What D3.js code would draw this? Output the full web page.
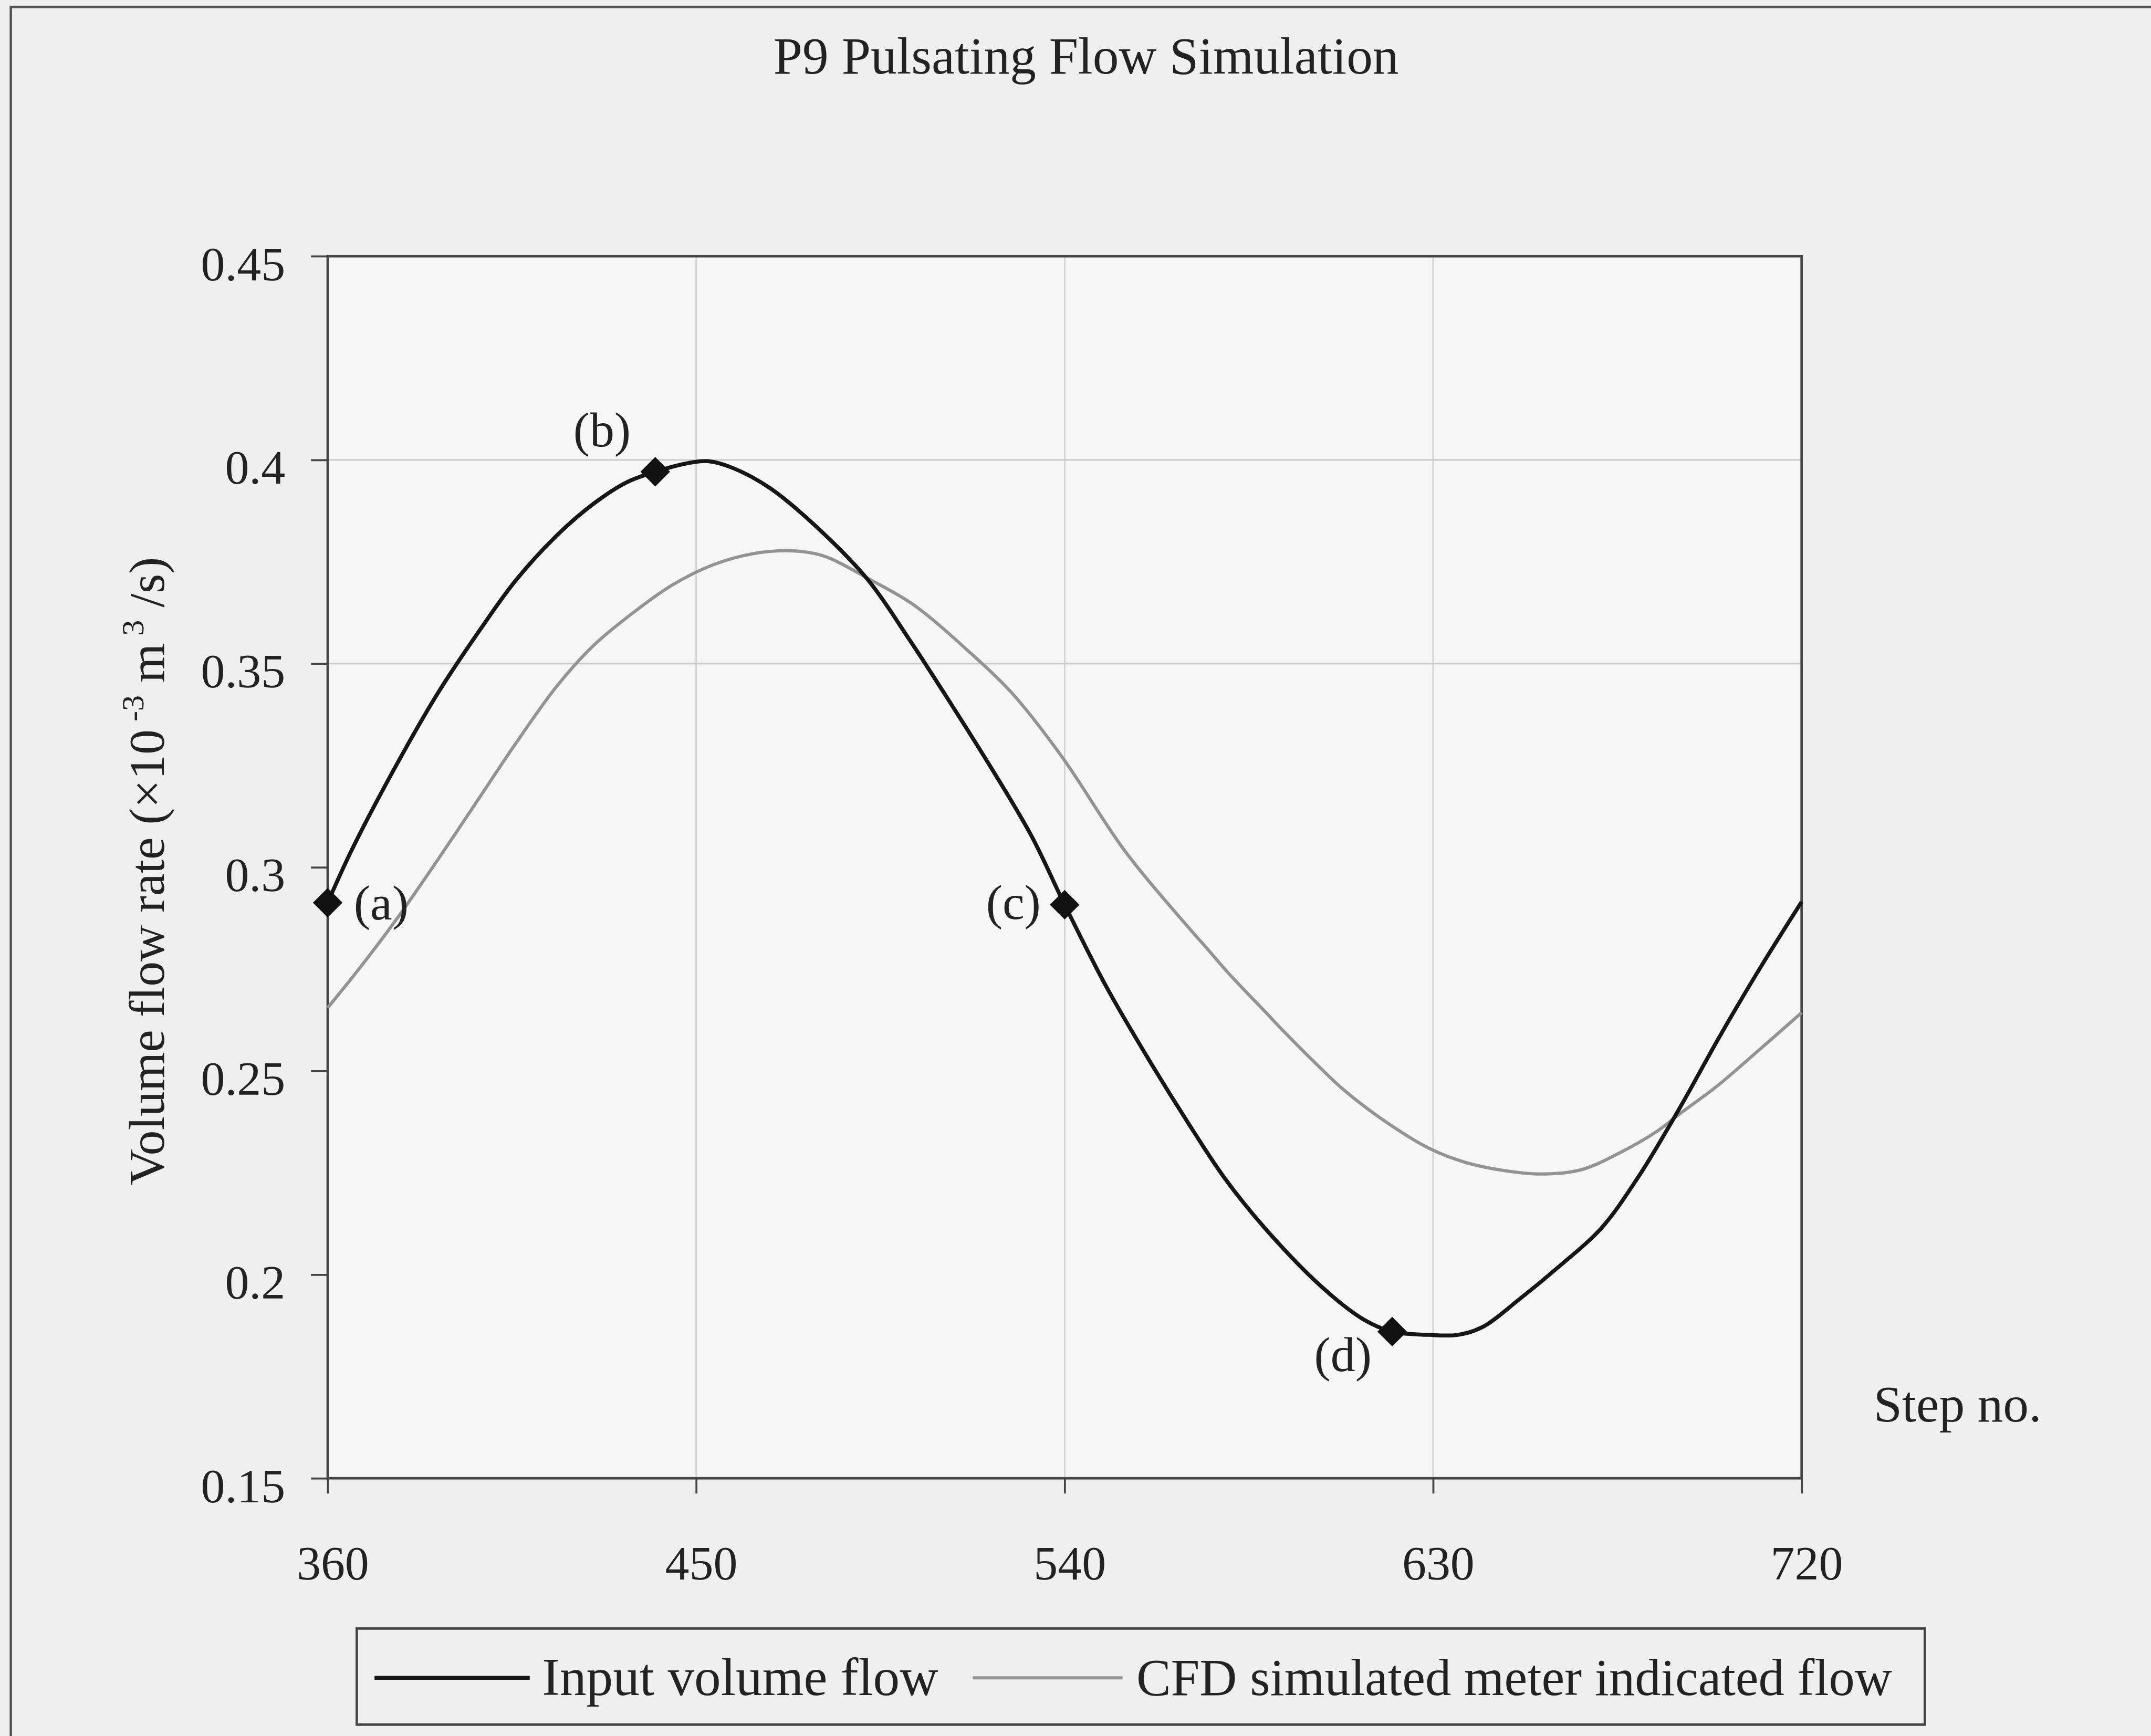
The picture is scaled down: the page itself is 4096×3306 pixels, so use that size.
<!DOCTYPE html>
<html>
<head>
<meta charset="utf-8">
<script src="https://cdn.jsdelivr.net/npm/d3@7"></script>
<style>
body { margin: 0; background: #efefef; }
text { font-family: "Liberation Serif", "Times New Roman", serif; fill: #222; }
</style>
</head>
<body>
<svg id="chart"></svg>
<script>
// values
const inputSteps = [360, 366, 377, 387, 397, 406, 416, 425, 433, 440, 449, 453, 459, 468, 480, 492, 502, 512, 522, 532, 540, 550, 560, 570, 579, 589, 603, 613, 620, 629, 636, 642, 651, 661, 671, 680, 690, 700, 710, 720];
const inputFlow = [0.2913, 0.3045, 0.3255, 0.3429, 0.358, 0.3705, 0.3815, 0.3893, 0.3945, 0.3971, 0.3994, 0.3997, 0.398, 0.3931, 0.383, 0.3705, 0.356, 0.3405, 0.3245, 0.3075, 0.2908, 0.271, 0.2537, 0.2375, 0.2238, 0.2113, 0.1968, 0.189, 0.186, 0.1852, 0.1852, 0.1871, 0.1939, 0.2022, 0.2113, 0.2238, 0.2405, 0.2585, 0.2755, 0.2915];

const cfdSteps = [360, 368, 377, 387, 397, 406, 416, 425, 435, 444, 454, 464, 473, 479, 483, 492, 503, 517, 527, 539, 555, 570, 575, 580, 589, 594, 603, 608, 618, 629, 638, 647, 656, 666, 675, 685, 690, 699, 709, 720];
const cfdFlow = [0.2655, 0.2755, 0.2875, 0.302, 0.317, 0.3305, 0.3445, 0.3545, 0.3628, 0.3692, 0.3742, 0.377, 0.3777, 0.377, 0.3757, 0.3709, 0.3645, 0.3526, 0.3429, 0.3276, 0.3036, 0.2855, 0.2798, 0.274, 0.2645, 0.2592, 0.2502, 0.2455, 0.2378, 0.231, 0.2275, 0.2256, 0.2247, 0.2257, 0.2296, 0.2354, 0.2393, 0.246, 0.2546, 0.2643];

const pointSteps = [360, 440, 540, 620];
const pointFlow = [0.2913, 0.3971, 0.2908, 0.186];
const pointLabels = ['(a)', '(b)', '(c)', '(d)'];

const xTicks = [360, 450, 540, 630, 720];
const yTicks = [0.15, 0.2, 0.25, 0.3, 0.35, 0.4, 0.45];
const yTickLabels = ['0.15', '0.2', '0.25', '0.3', '0.35', '0.4', '0.45'];
const xGrid = [450, 540, 630];
const yGrid = [0.35, 0.4];

const seriesNames = ['Input volume flow', 'CFD simulated meter indicated flow'];

// drawn in reference pixel units, scaled to the window by the viewBox
const W = 4365, H = 3523;
const plot = { left: 665, right: 3656, top: 520, bottom: 3000 };

let svg = d3.select('#chart')
    .attr('width', 4096)
    .attr('height', 3306)
    .attr('viewBox', `0 0 ${W} ${H}`);

svg.append('rect')
    .attr('width', W).attr('height', H)
    .attr('fill', '#efefef');

// outer chart border (runs off the right and bottom in the scan)
svg.append('rect')
    .attr('x', 22).attr('y', 14)
    .attr('width', W + 100).attr('height', H + 100)
    .attr('fill', 'none')
    .attr('stroke', '#555')
    .attr('stroke-width', 5);

let x = d3.scaleLinear().domain([360, 720]).range([plot.left, plot.right]);
let y = d3.scaleLinear().domain([0.15, 0.45]).range([plot.bottom, plot.top]);

svg.append('rect')
    .attr('x', plot.left).attr('y', plot.top)
    .attr('width', plot.right - plot.left)
    .attr('height', plot.bottom - plot.top)
    .attr('fill', '#f6f6f6');

// gridlines
svg.selectAll('.vgrid')
    .data(xGrid)
    .enter()
    .append('line')
    .attr('class', 'vgrid')
    .attr('x1', d => x(d)).attr('x2', d => x(d))
    .attr('y1', plot.top).attr('y2', plot.bottom)
    .attr('stroke', '#d2d2d2')
    .attr('stroke-width', 3);

svg.selectAll('.hgrid')
    .data(yGrid)
    .enter()
    .append('line')
    .attr('class', 'hgrid')
    .attr('x1', plot.left).attr('x2', plot.right)
    .attr('y1', d => y(d)).attr('y2', d => y(d))
    .attr('stroke', '#c8c8c8')
    .attr('stroke-width', 3);

// axes
let xAxis = d3.axisBottom(x)
    .tickValues(xTicks)
    .tickSize(31)
    .tickPadding(105)
    .tickFormat(d => String(d));

let yAxis = d3.axisLeft(y)
    .tickValues(yTicks)
    .tickSize(34)
    .tickPadding(52)
    .tickFormat((d, i) => yTickLabels[i]);

let gx = svg.append('g')
    .attr('transform', `translate(0,${plot.bottom})`)
    .call(xAxis);
gx.select('.domain').remove();
gx.selectAll('line').attr('stroke', '#444').attr('stroke-width', 4);
gx.selectAll('text')
    .attr('font-size', 98)
    .attr('dx', 10)
    .attr('font-family', '"Liberation Serif", "Times New Roman", serif')
    .attr('fill', '#222');

let gy = svg.append('g')
    .attr('transform', `translate(${plot.left},0)`)
    .call(yAxis);
gy.select('.domain').remove();
gy.selectAll('line').attr('stroke', '#444').attr('stroke-width', 4);
gy.selectAll('text')
    .attr('font-size', 98)
    .attr('dy', '0.49em')
    .attr('font-family', '"Liberation Serif", "Times New Roman", serif')
    .attr('fill', '#222');

// plot frame
svg.append('rect')
    .attr('x', plot.left).attr('y', plot.top)
    .attr('width', plot.right - plot.left)
    .attr('height', plot.bottom - plot.top)
    .attr('fill', 'none')
    .attr('stroke', '#444')
    .attr('stroke-width', 5);

// series
const line = d3.line()
    .x(d => x(d[0]))
    .y(d => y(d[1]))
    .curve(d3.curveCatmullRom.alpha(0.5));

svg.append('path')
    .datum(cfdSteps.map((s, i) => [s, cfdFlow[i]]))
    .attr('d', line)
    .attr('fill', 'none')
    .attr('stroke', '#939393')
    .attr('stroke-width', 6.5);

svg.append('path')
    .datum(inputSteps.map((s, i) => [s, inputFlow[i]]))
    .attr('d', line)
    .attr('fill', 'none')
    .attr('stroke', '#161616')
    .attr('stroke-width', 8);

// marked points
const diamond = 'M0,-30L30,0L0,30L-30,0Z';
svg.selectAll('.marker')
    .data(pointSteps)
    .enter()
    .append('path')
    .attr('class', 'marker')
    .attr('d', diamond)
    .attr('transform', (d, i) => `translate(${x(d)},${y(pointFlow[i])})`)
    .attr('fill', '#111');

const labelOffsets = [[53, 34, 'start'], [-108, -52, 'middle'], [-104, 29, 'middle'], [-100, 80, 'middle']];
svg.selectAll('.plabel')
    .data(pointLabels)
    .enter()
    .append('text')
    .attr('class', 'plabel')
    .attr('x', (d, i) => x(pointSteps[i]) + labelOffsets[i][0])
    .attr('y', (d, i) => y(pointFlow[i]) + labelOffsets[i][1])
    .attr('text-anchor', (d, i) => labelOffsets[i][2])
    .attr('font-size', 100)
    .text(d => d);

// title
svg.append('text')
    .attr('x', 2204).attr('y', 149)
    .attr('text-anchor', 'middle')
    .attr('font-size', 106)
    .text('P9 Pulsating Flow Simulation');

// x axis title
svg.append('text')
    .attr('x', 3802).attr('y', 2885)
    .attr('font-size', 104)
    .text('Step no.');

// y axis title
let yl = svg.append('text')
    .attr('transform', 'translate(333,1768) rotate(-90)')
    .attr('text-anchor', 'middle')
    .attr('font-size', 102);
yl.append('tspan').text('Volume flow rate (×10');
yl.append('tspan').attr('dy', -42).attr('font-size', 64).text(' -3');
yl.append('tspan').attr('dy', 42).text(' m');
yl.append('tspan').attr('dy', -42).attr('font-size', 64).text(' 3');
yl.append('tspan').attr('dy', 42).text(' /s)');

// legend
svg.append('rect')
    .attr('x', 724).attr('y', 3305)
    .attr('width', 3906 - 724).attr('height', 3500 - 3305)
    .attr('fill', 'none')
    .attr('stroke', '#444')
    .attr('stroke-width', 5);

const legendItems = [
    { x1: 760, x2: 1075, tx: 1100, color: '#161616', width: 8, size: 108 },
    { x1: 1974, x2: 2278, tx: 2306, color: '#939393', width: 6.5, size: 105 }
];

legendItems.forEach((item, i) => {
    svg.append('line')
        .attr('x1', item.x1).attr('x2', item.x2)
        .attr('y1', 3405).attr('y2', 3405)
        .attr('stroke', item.color)
        .attr('stroke-width', item.width);
    svg.append('text')
        .attr('x', item.tx).attr('y', 3440)
        .attr('font-size', item.size)
        .text(seriesNames[i]);
});
</script>
</body>
</html>
